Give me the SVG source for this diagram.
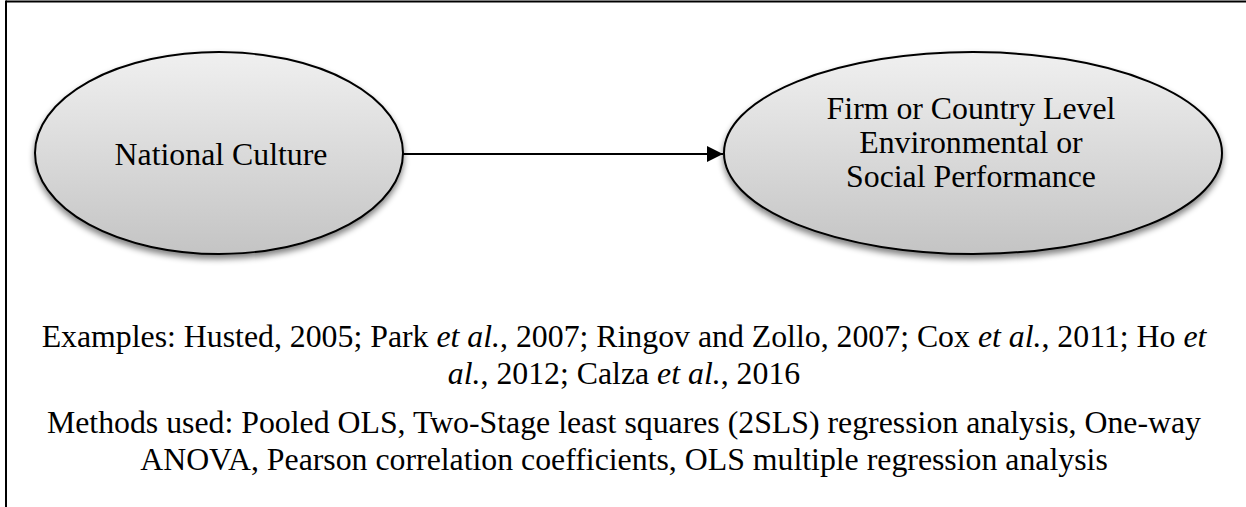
<svg xmlns="http://www.w3.org/2000/svg" width="1246" height="507" viewBox="0 0 1246 507">
  <style>
    .t { font-family: "Liberation Serif", "Times New Roman", serif; font-size: 31.8px; fill: #000; }
    .node { fill: url(#g); stroke: #000; stroke-width: 2; filter: url(#sh); }
    .conn { stroke: #000; stroke-width: 2; fill: none; }
  </style>
  <defs>
    <linearGradient id="g" x1="0" y1="0" x2="0" y2="1">
      <stop offset="0" stop-color="#f0f0f0"/>
      <stop offset="1" stop-color="#c4c4c4"/>
    </linearGradient>
    <filter id="sh" x="-10%" y="-10%" width="120%" height="130%">
      <feGaussianBlur in="SourceAlpha" stdDeviation="3"/>
      <feOffset dx="0" dy="4" result="b"/>
      <feComponentTransfer><feFuncA type="linear" slope="0.5"/></feComponentTransfer>
      <feMerge><feMergeNode/><feMergeNode in="SourceGraphic"/></feMerge>
    </filter>
    <marker id="ah" markerWidth="16" markerHeight="16" refX="16" refY="8" orient="auto" markerUnits="userSpaceOnUse">
      <path d="M0,0 L16,8 L0,16 Z" fill="#000"/>
    </marker>
  </defs>
  <g id="frame">
    <line x1="6" y1="1.5" x2="1246" y2="1.5" stroke="#000" stroke-width="2"/>
    <line x1="6" y1="0.5" x2="6" y2="507" stroke="#000" stroke-width="2"/>
  </g>
  <g id="connectors">
    <line class="conn" x1="403" y1="154" x2="723" y2="154" marker-end="url(#ah)"/>
  </g>
  <g id="node-national-culture">
    <ellipse class="node" cx="219" cy="153" rx="184" ry="101"/>
    <text class="t" x="221" y="165" text-anchor="middle">National Culture</text>
  </g>
  <g id="node-performance">
    <ellipse class="node" cx="973" cy="153" rx="249" ry="101"/>
    <text class="t" x="971" y="119" text-anchor="middle">Firm or Country Level</text>
    <text class="t" x="971" y="153" text-anchor="middle">Environmental or</text>
    <text class="t" x="971" y="187" text-anchor="middle">Social Performance</text>
  </g>
  <g id="notes">
    <text class="t" x="624" y="347" text-anchor="middle">Examples: Husted, 2005; Park <tspan font-style="italic">et al.</tspan>, 2007; Ringov and Zollo, 2007; Cox <tspan font-style="italic">et al.</tspan>, 2011; Ho <tspan font-style="italic">et</tspan></text>
    <text class="t" x="624" y="384" text-anchor="middle"><tspan font-style="italic">al.</tspan>, 2012; Calza <tspan font-style="italic">et al.</tspan>, 2016</text>
    <text class="t" x="624" y="433" text-anchor="middle">Methods used: Pooled OLS, Two-Stage least squares (2SLS) regression analysis, One-way</text>
    <text class="t" x="624" y="470" text-anchor="middle">ANOVA, Pearson correlation coefficients, OLS multiple regression analysis</text>
  </g>
</svg>
